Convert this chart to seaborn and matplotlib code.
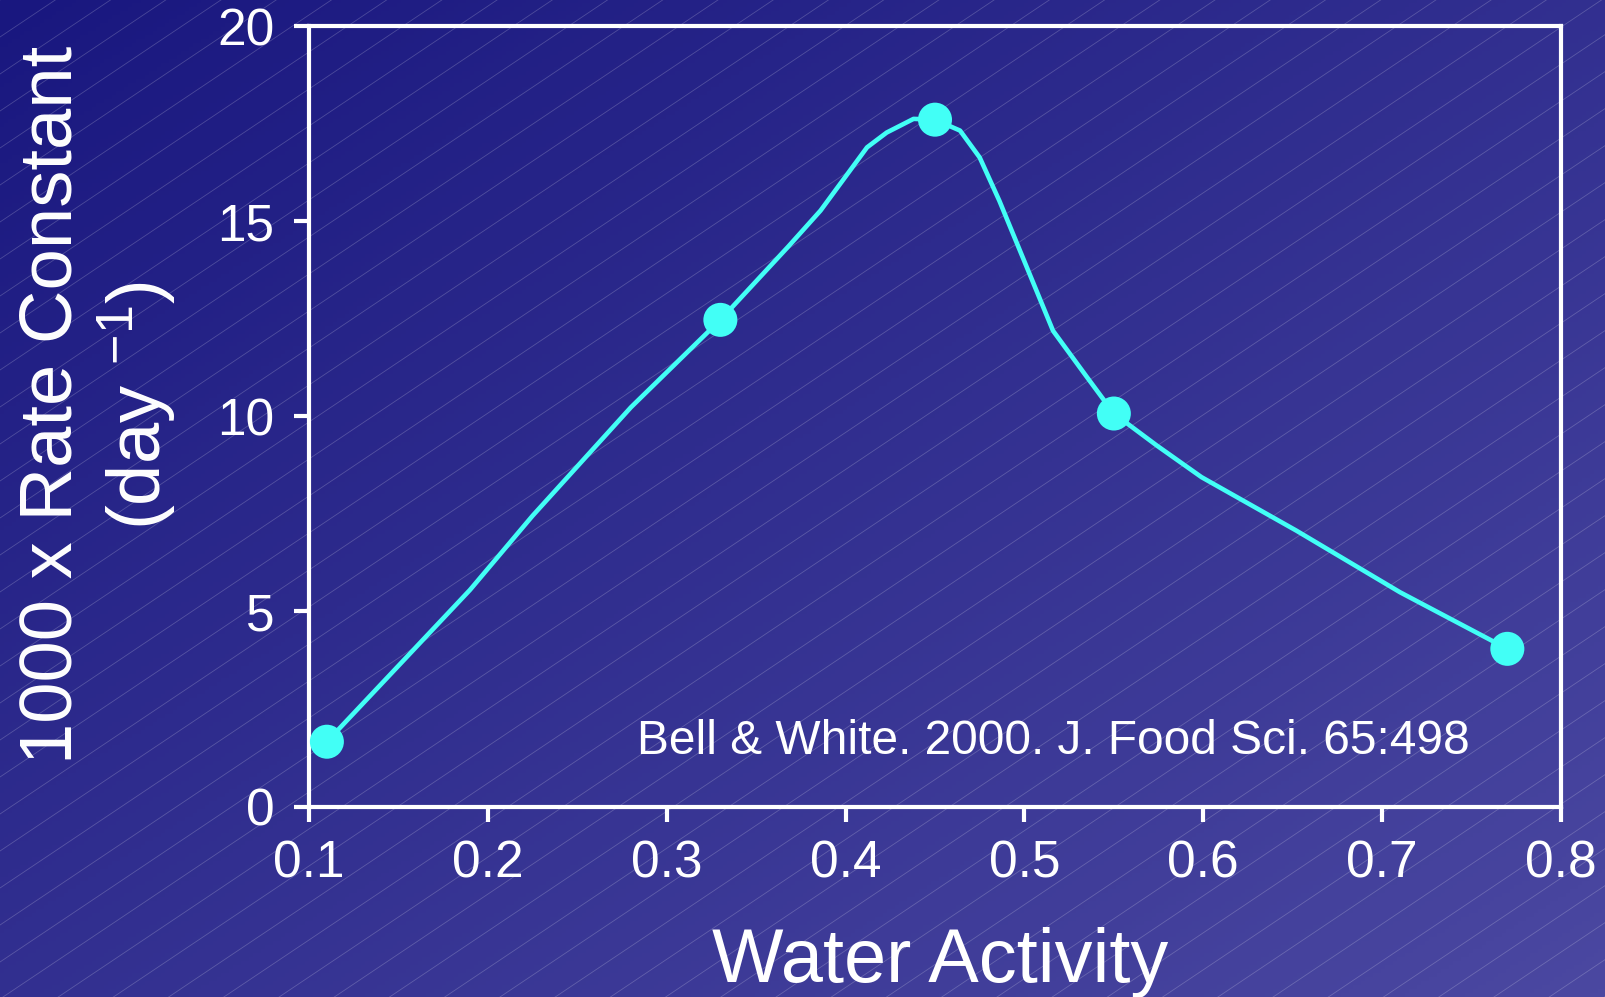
import numpy as np
import matplotlib
matplotlib.use("Agg")
import matplotlib.pyplot as plt
import seaborn as sns
import pandas as pd
from matplotlib.colors import LinearSegmentedColormap

# data
aw_points = [0.11, 0.33, 0.45, 0.55, 0.77]
rate_points = [1.66, 12.47, 17.6, 10.07, 4.04]

# smoothed curve drawn through the points
curve_aw = [0.11, 0.19, 0.225, 0.28, 0.33, 0.368, 0.386, 0.412, 0.423, 0.438, 0.45,
            0.464, 0.475, 0.486, 0.516, 0.535, 0.55, 0.574, 0.599, 0.652, 0.71, 0.77]
curve_rate = [1.66, 5.55, 7.45, 10.23, 12.47, 14.35, 15.27, 16.89, 17.27, 17.62, 17.6,
              17.32, 16.63, 15.52, 12.19, 11.0, 10.07, 9.25, 8.44, 7.07, 5.49, 4.04]

x_ticks = [0.1, 0.2, 0.3, 0.4, 0.5, 0.6, 0.7, 0.8]
y_ticks = [0, 5, 10, 15, 20]

sns.set_style("ticks")
plt.rcParams['font.family'] = ['Liberation Sans', 'DejaVu Sans']
plt.rcParams['mathtext.fontset'] = 'custom'
plt.rcParams['mathtext.rm'] = 'Liberation Sans'
plt.rcParams['mathtext.it'] = 'Liberation Sans'

W, H = 1606, 997
fig = plt.figure(figsize=(W / 100, H / 100), dpi=100)

# background gradient with faint diagonal lines
bg = fig.add_axes([0, 0, 1, 1], zorder=-1)
xx, yy = np.meshgrid(np.linspace(0, 1, 400), np.linspace(0, 1, 250))
grad = (xx + yy) / 2
cmap = LinearSegmentedColormap.from_list('bg', ['#19177f', '#4b48a1'])
bg.imshow(grad, cmap=cmap, extent=[0, W, H, 0], aspect='auto')
slope = 0.67
for c in np.arange(0, H + slope * W + 40, 37):
    bg.plot([0, W], [c, c - slope * W], color='white', alpha=0.2, lw=0.6)
bg.set_xlim(0, W)
bg.set_ylim(H, 0)
bg.axis('off')

ax = fig.add_axes([309 / W, 1 - 806.5 / H, (1561 - 309) / W, (806.5 - 26) / H])
ax.set_facecolor('none')

cyan = '#42fff6'
curve = pd.DataFrame({'aw': curve_aw, 'rate': curve_rate})
pts = pd.DataFrame({'aw': aw_points, 'rate': rate_points})
sns.lineplot(data=curve, x='aw', y='rate', sort=False, color=cyan, lw=3.3, ax=ax)
sns.scatterplot(data=pts, x='aw', y='rate', color=cyan, s=600, edgecolor='none',
                zorder=5, ax=ax)

ax.set_xlim(0.1, 0.8)
ax.set_ylim(0, 20)
ax.set_xticks(x_ticks)
ax.set_xticklabels([f'{t:.1f}' for t in x_ticks])
ax.set_yticks(y_ticks)
for sp in ax.spines.values():
    sp.set_color('white')
    sp.set_linewidth(3)
ax.tick_params(colors='white', width=3, length=11, labelsize=37)
ax.tick_params(axis='x', pad=13)
ax.tick_params(axis='y', pad=14)

ax.set_xlabel('Water Activity', fontsize=54.5, color='white')
ax.xaxis.set_label_coords(0.504, -0.155)
ax.set_ylabel('1000 x Rate Constant\n(day $^{-1}$)', fontsize=53.5, color='white',
              linespacing=1.13)
ax.yaxis.set_label_coords(-0.105, 0.514)

ax.text(0.2834, 1.67, 'Bell & White. 2000. J. Food Sci. 65:498', fontsize=34.5,
        color='white', ha='left', va='center')

fig.savefig('out.png', dpi=100)
